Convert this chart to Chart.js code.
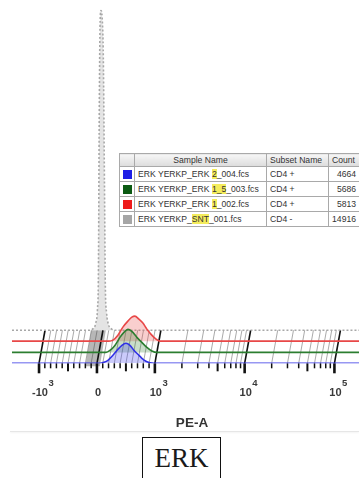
<!DOCTYPE html>
<html>
<head>
<meta charset="utf-8">
<script src="https://cdn.jsdelivr.net/npm/chart.js@4/dist/chart.umd.min.js"></script>
<style>
html,body{margin:0;padding:0;background:#fff;overflow:hidden;width:359px;height:478px;}
#wrap{position:absolute;left:0;top:0;width:372px;height:434px;}
#legendTable{position:absolute;left:119px;top:153px;width:241px;border-collapse:collapse;table-layout:fixed;
  font-family:"Liberation Sans",Arial,sans-serif;font-size:8.6px;color:#333;background:#fff;border:1px solid #888;}
#legendTable th,#legendTable td{border:1px solid #a9a9a9;padding:0 3px;white-space:nowrap;overflow:hidden;line-height:1;vertical-align:middle;}
#legendTable th{height:12px;font-weight:normal;text-align:left;background:linear-gradient(#f6f6f6,#dcdcdc);}
#legendTable th.c{text-align:center;}
#legendTable td{height:14px;}
#legendTable td.sw{padding:0;text-align:center;}
#legendTable td.num{text-align:right;padding-right:4px;}
.swatch{display:inline-block;width:9px;height:9px;vertical-align:middle;}
.hl{background:#f4ec5c;}
#sep{position:absolute;left:10px;top:431px;width:349px;height:1px;background:#e6e6e6;box-shadow:0 1px 2px #efefef;}
#erkBox{position:absolute;left:142px;top:437px;width:79px;height:50px;box-sizing:border-box;border:1.5px solid #111;
  font-family:"Liberation Serif","Times New Roman",serif;font-size:27px;line-height:27px;padding-top:7px;text-align:center;color:#1a1a1a;}
</style>
</head>
<body>
<div id="wrap"><canvas id="c"></canvas></div>
<table id="legendTable"></table>
<div id="sep"></div>
<div id="erkBox">ERK</div>
<script>
// ---------- data ----------
const SAMPLE_NAMES = ['ERK YERKP_ERK 2_004.fcs', 'ERK YERKP_ERK 1_5_003.fcs', 'ERK YERKP_ERK 1_002.fcs', 'ERK YERKP_SNT_001.fcs'];
const HIGHLIGHTS   = ['2', '1_5', '1', 'SNT'];
const SUBSETS      = ['CD4 +', 'CD4 +', 'CD4 +', 'CD4 -'];
const COUNTS       = [4664, 5686, 5813, 14916];
const SWATCH_COLORS = ['#1e1ee6', '#0b5a12', '#ee1b1b', '#a6a6a6'];

// offset of each histogram layer (y units, blue / green / red / grey)
const LAYER_OFFSETS = [0, 3.0, 6.1, 9.1];

// PE-A values and heights of each histogram
const BLUE_X  = [-2000, 0, 52, 121, 190, 276, 362, 431, 500, 569, 638, 707, 776, 845, 914, 983, 262144];
const BLUE_Y  = [0, 0, 0, 0.28, 0.83, 2.2, 3.86, 4.96, 5.5, 4.96, 3.58, 2.48, 1.38, 0.55, 0.14, 0, 0];
const GREEN_X = [-2000, 0, 155, 224, 310, 397, 466, 534, 603, 690, 776, 862, 948, 1052, 262144];
const GREEN_Y = [0, 0, 0, 0.55, 1.93, 4.13, 5.51, 6.34, 5.79, 4.13, 2.75, 1.38, 0.41, 0, 0];
const RED_X   = [-2000, 0, 207, 276, 362, 448, 534, 603, 655, 724, 793, 862, 931, 1000, 1136, 262144];
const RED_Y   = [0, 0, 0, 0.28, 1.65, 3.86, 5.51, 6.61, 6.89, 6.06, 4.96, 3.31, 1.93, 0.83, 0, 0];
const GREY_X  = [-2000, -150, -60, -20, 10, 25, 40, 55, 70, 90, 110, 130, 145, 165, 200, 250, 320, 262144];
const GREY_Y  = [0, 0, 0.5, 2, 6, 15, 60, 85, 88, 86, 75, 40, 12, 5, 1.5, 0.4, 0, 0];

// axis
const X_MIN = -2000, X_MAX = 262144;
const MAJOR_TICKS = [-1000, 0, 1000, 10000, 100000];
const TICK_BASES = ['-10', '0', '10', '10', '10'];
const TICK_EXPS  = ['3', '', '3', '4', '5'];
const ZERO_BAND = [-200, 50];

// ---------- biexponential-like scale ----------
const LIN_LIMIT = 1000, DECADE_RATIO = 1.55;
function biex(v){ const a = Math.abs(v); if (a <= LIN_LIMIT) return v / LIN_LIMIT; return Math.sign(v) * (1 + Math.log10(a / LIN_LIMIT) * DECADE_RATIO); }
function biexInv(t){ const a = Math.abs(t); if (a <= 1) return t * LIN_LIMIT; return Math.sign(t) * LIN_LIMIT * Math.pow(10, (a - 1) / DECADE_RATIO); }

function minorTicks(){
  const out = [];
  for (let k = -9; k <= 9; k++) if (k !== 0) out.push({v: k * 100, mid: Math.abs(k) === 5});
  [1000, 10000, 100000].forEach(d => { for (let m = 2; m <= 9; m++) { const v = m * d; if (v <= X_MAX) out.push({v, mid: m === 5}); } });
  return out;
}

class BiexScale extends Chart.LinearScale {
  getPixelForValue(value){
    const t0 = biex(this.min), t1 = biex(this.max);
    return this.getPixelForDecimal((biex(value) - t0) / (t1 - t0));
  }
  getValueForPixel(pixel){
    const t0 = biex(this.min), t1 = biex(this.max);
    return biexInv(t0 + this.getDecimalForPixel(pixel) * (t1 - t0));
  }
  buildTicks(){ return MAJOR_TICKS.map(v => ({value: v})); }
}
BiexScale.id = 'biex';
BiexScale.defaults = Chart.LinearScale.defaults;
Chart.register(BiexScale);

// ---------- legend table ----------
(function(){
  const tbl = document.getElementById('legendTable');
  let html = '<colgroup><col style="width:15px"><col style="width:132px"><col style="width:62px"><col style="width:32px"></colgroup>';
  html += '<tr><th></th><th class="c">Sample Name</th><th>Subset Name</th><th>Count</th></tr>';
  SAMPLE_NAMES.forEach((name, i) => {
    const h = HIGHLIGHTS[i], k = name.indexOf(h);
    const txt = name.slice(0, k) + '<span class="hl">' + h + '</span>' + name.slice(k + h.length);
    html += '<tr><td class="sw"><span class="swatch" style="background:' + SWATCH_COLORS[i] + '"></span></td><td>' + txt +
            '</td><td>' + SUBSETS[i] + '</td><td class="num">' + COUNTS[i] + '</td></tr>';
  });
  tbl.innerHTML = html;
})();

// ---------- plugins ----------
const SLANT = 6;
const offsetGrid = {
  id: 'offsetGrid',
  beforeDatasetsDraw(chart){
    const xs = chart.scales.x, ys = chart.scales.y, ctx = chart.ctx;
    const yb = ys.getPixelForValue(LAYER_OFFSETS[0]);
    const yt = ys.getPixelForValue(LAYER_OFFSETS[3]);
    ctx.save();
    // dark zone around zero
    const a = xs.getPixelForValue(ZERO_BAND[0]), b = xs.getPixelForValue(ZERO_BAND[1]);
    ctx.fillStyle = 'rgba(95,95,95,0.45)';
    ctx.beginPath();
    ctx.moveTo(a, yb + 3); ctx.lineTo(b, yb + 3); ctx.lineTo(b + SLANT, yt); ctx.lineTo(a + SLANT, yt); ctx.closePath(); ctx.fill();
    // minor slanted lines + ticks
    minorTicks().forEach(t => {
      const px = xs.getPixelForValue(t.v);
      ctx.strokeStyle = 'rgba(60,60,60,0.55)'; ctx.lineWidth = 0.8;
      ctx.beginPath(); ctx.moveTo(px, yb); ctx.lineTo(px + SLANT, yt); ctx.stroke();
      ctx.strokeStyle = '#111'; ctx.lineWidth = t.mid ? 2 : 1.5;
      ctx.beginPath(); ctx.moveTo(px, yb); ctx.lineTo(px, yb + (t.mid ? 8 : 5)); ctx.stroke();
    });
    // major lines + ticks
    MAJOR_TICKS.forEach(v => {
      const px = xs.getPixelForValue(v);
      ctx.strokeStyle = '#111'; ctx.lineWidth = 1.6;
      ctx.beginPath(); ctx.moveTo(px, yb); ctx.lineTo(px + SLANT, yt); ctx.stroke();
      ctx.lineWidth = 2.6;
      ctx.beginPath(); ctx.moveTo(px, yb); ctx.lineTo(px, yb + 10); ctx.stroke();
    });
    ctx.restore();
  },
  afterDraw(chart){
    const xs = chart.scales.x, ctx = chart.ctx, bottom = chart.chartArea.bottom;
    ctx.save();
    ctx.fillStyle = '#3a3a3a';
    ctx.textBaseline = 'alphabetic';
    MAJOR_TICKS.forEach((v, i) => {
      const px = xs.getPixelForValue(v);
      ctx.font = 'bold 11px "Liberation Sans", Arial, sans-serif';
      const w = ctx.measureText(TICK_BASES[i]).width;
      ctx.textAlign = 'center';
      ctx.fillText(TICK_BASES[i], px + 1, bottom + 33);
      if (TICK_EXPS[i]) {
        ctx.font = 'bold 9.5px "Liberation Sans", Arial, sans-serif';
        ctx.textAlign = 'left';
        ctx.fillText(TICK_EXPS[i], px + 1 + w / 2 + 0.5, bottom + 23);
      }
    });
    ctx.restore();
  }
};

function pts(xs, ys, off){ return xs.map((x, i) => ({x, y: off + ys[i]})); }

const datasets = [
  {label: SAMPLE_NAMES[0], data: pts(BLUE_X, BLUE_Y, LAYER_OFFSETS[0]), borderColor: '#3030e6', backgroundColor: 'rgba(70,70,240,0.28)', fill: {value: LAYER_OFFSETS[0]}, borderWidth: 1.6},
  {label: SAMPLE_NAMES[1], data: pts(GREEN_X, GREEN_Y, LAYER_OFFSETS[1]), borderColor: '#2c7e30', backgroundColor: 'rgba(40,120,40,0.25)', fill: {value: LAYER_OFFSETS[1]}, borderWidth: 1.6},
  {label: SAMPLE_NAMES[2], data: pts(RED_X, RED_Y, LAYER_OFFSETS[2]), borderColor: '#e84848', backgroundColor: 'rgba(232,80,80,0.28)', fill: {value: LAYER_OFFSETS[2]}, borderWidth: 1.6},
  {label: SAMPLE_NAMES[3], data: pts(GREY_X, GREY_Y, LAYER_OFFSETS[3]), borderColor: '#a8a8a8', backgroundColor: 'rgba(210,210,210,0.6)', fill: {value: LAYER_OFFSETS[3]}, borderWidth: 1.6, borderDash: [2, 2]}
];
datasets.forEach(d => { d.pointRadius = 0; d.cubicInterpolationMode = 'monotone'; });

new Chart(document.getElementById('c'), {
  type: 'line',
  data: {datasets},
  options: {
    responsive: true, maintainAspectRatio: false, animation: false, parsing: true,
    layout: {padding: {left: 12, right: 0, top: 0, bottom: 0}},
    plugins: {legend: {display: false}, tooltip: {enabled: false}},
    scales: {
      x: {type: 'biex', min: X_MIN, max: X_MAX, offset: false,
          grid: {display: false, drawTicks: false}, border: {display: false},
          ticks: {display: false},
          title: {display: true, text: 'PE-A', color: '#333', font: {family: '"Liberation Sans", Arial, sans-serif', size: 13.5, weight: 'bold'}, padding: {top: 51.5, bottom: 3}}},
      y: {type: 'linear', min: 0, max: 100, display: false}
    }
  },
  plugins: [offsetGrid]
});
</script>
</body>
</html>
